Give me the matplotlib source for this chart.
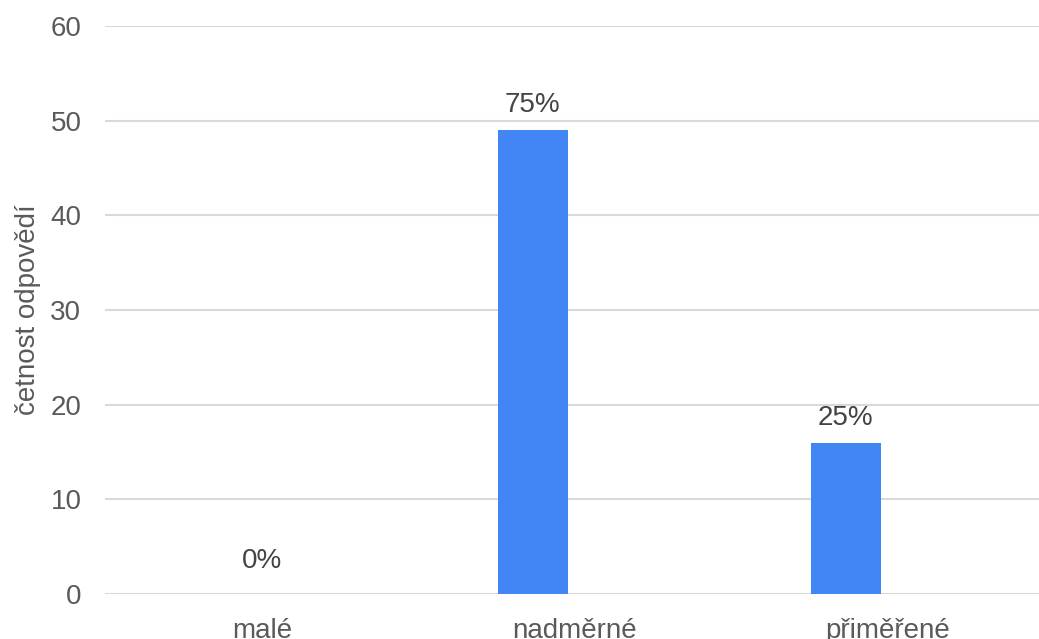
import matplotlib.pyplot as plt
import matplotlib.transforms as mtransforms

# data
categories = ['malé', 'nadměrné', 'přiměřené']
counts = [0, 49, 16]
y_ticks = [0, 10, 20, 30, 40, 50, 60]

plt.rcParams['font.family'] = ['Liberation Sans', 'DejaVu Sans']

BAR_COLOR = '#4285f4'
GRID_COLOR = '#d9d9d9'
TEXT_COLOR = '#444444'
FS = 20

fig = plt.figure(figsize=(10.39, 6.39), dpi=100)
ax = fig.add_axes([105 / 1039, 45 / 639, 1 - 105 / 1039, 568 / 639])

x = list(range(len(categories)))
ax.bar(x, counts, width=0.224, color=BAR_COLOR, zorder=3)

ax.set_xlim(-0.367, 2.617)
ax.set_ylim(0, 60)
ax.set_yticks(y_ticks)
ax.tick_params(axis='y', length=0, pad=17, labelsize=FS, labelcolor='#5a5a5a')
ax.grid(axis='y', color=GRID_COLOR, lw=1.5, zorder=0)
for s in ax.spines.values():
    s.set_visible(False)

# category labels sit a bit right of the bar centres
ax.set_xticks(x)
ax.set_xticklabels(categories)
ax.tick_params(axis='x', length=0, pad=17, labelsize=FS, labelcolor='#5a5a5a')
shift = mtransforms.ScaledTranslation(42 / 100, 0, fig.dpi_scale_trans)
for lbl in ax.get_xticklabels():
    lbl.set_transform(lbl.get_transform() + shift)

ax.set_ylabel('četnost odpovědí', fontsize=FS, color='#5a5a5a', labelpad=7)

# percentage labels above bars
total = sum(counts)
for xi, c in zip(x, counts):
    pct = '{:.0f}%'.format(100 * c / total)
    if c == 0:
        ax.annotate(pct, (xi, c), xytext=(42, 20), textcoords='offset pixels',
                    ha='center', va='bottom', fontsize=FS, color=TEXT_COLOR)
    else:
        ax.annotate(pct, (xi, c), xytext=(0, 12), textcoords='offset pixels',
                    ha='center', va='bottom', fontsize=FS, color=TEXT_COLOR)

fig.savefig('out.png', dpi=100)
